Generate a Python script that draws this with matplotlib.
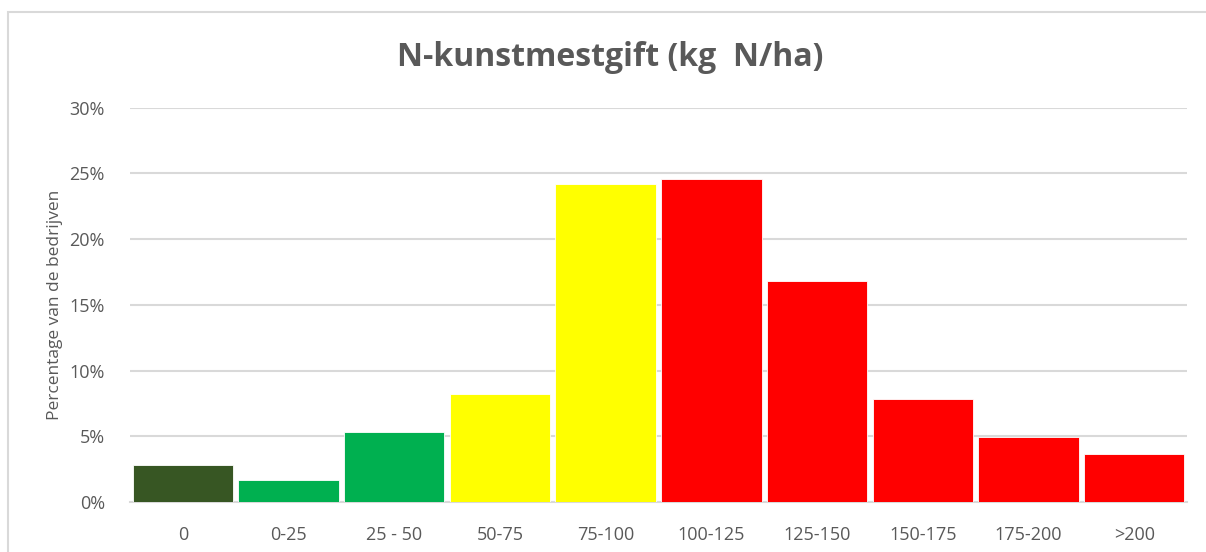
import matplotlib
matplotlib.use('Agg')
import matplotlib.pyplot as plt
from matplotlib.patches import Rectangle
from matplotlib.ticker import FuncFormatter

# klassen (kg N/ha) en aandeel bedrijven
categories = ['0', '0-25', '25 - 50', '50-75', '75-100', '100-125', '125-150', '150-175', '175-200', '>200']
shares = [0.0285, 0.0165, 0.0533, 0.082, 0.2418, 0.2455, 0.168, 0.0785, 0.0498, 0.0369]
bar_colors = ['#375623', '#00B050', '#00B050', '#FFFF00', '#FFFF00',
              '#FF0000', '#FF0000', '#FF0000', '#FF0000', '#FF0000']
y_ticks = [0, 0.05, 0.10, 0.15, 0.20, 0.25, 0.30]

plt.rcParams['font.family'] = ['Open Sans', 'DejaVu Sans']
grey = '#595959'

fig = plt.figure(figsize=(12.06, 5.52), dpi=100)
ax = fig.add_axes([130 / 1206, 50 / 552, 1057 / 1206, (502 - 107.7) / 552])

# rand rond de grafiek
fig.patches.append(Rectangle((8 / 1206, -0.1), 1.2, 1 - 12 / 552 + 0.1, transform=fig.transFigure,
                             fill=False, edgecolor='#D9D9D9', linewidth=1.5))

x = range(len(categories))
ax.bar(x, shares, width=0.95, color=bar_colors, edgecolor='white', linewidth=0.6, zorder=3)

ax.set_xlim(-0.5, len(categories) - 0.5)
ax.set_ylim(0, 0.30)
ax.set_yticks(y_ticks)
ax.yaxis.set_major_formatter(FuncFormatter(lambda v, p: '{:.0f}%'.format(v * 100)))
ax.set_xticks(list(x))
ax.set_xticklabels(categories)
ax.tick_params(axis='both', length=0, colors=grey, labelsize=13)
ax.tick_params(axis='x', pad=17)
ax.tick_params(axis='y', pad=18)
ax.grid(axis='y', color='#D9D9D9', linewidth=1.5, zorder=0)
for s in ['top', 'right', 'left']:
    ax.spines[s].set_visible(False)
ax.spines['bottom'].set_color('#D9D9D9')
ax.spines['bottom'].set_linewidth(1.5)

ax.set_ylabel('Percentage van de bedrijven', color=grey, fontsize=12.5, labelpad=5)
fig.text(610 / 1206, 1 - 57 / 552, 'N-kunstmestgift (kg  N/ha)', ha='center', va='center',
         fontsize=23, fontweight='bold', color=grey)

plt.savefig('out.png', dpi=100)
